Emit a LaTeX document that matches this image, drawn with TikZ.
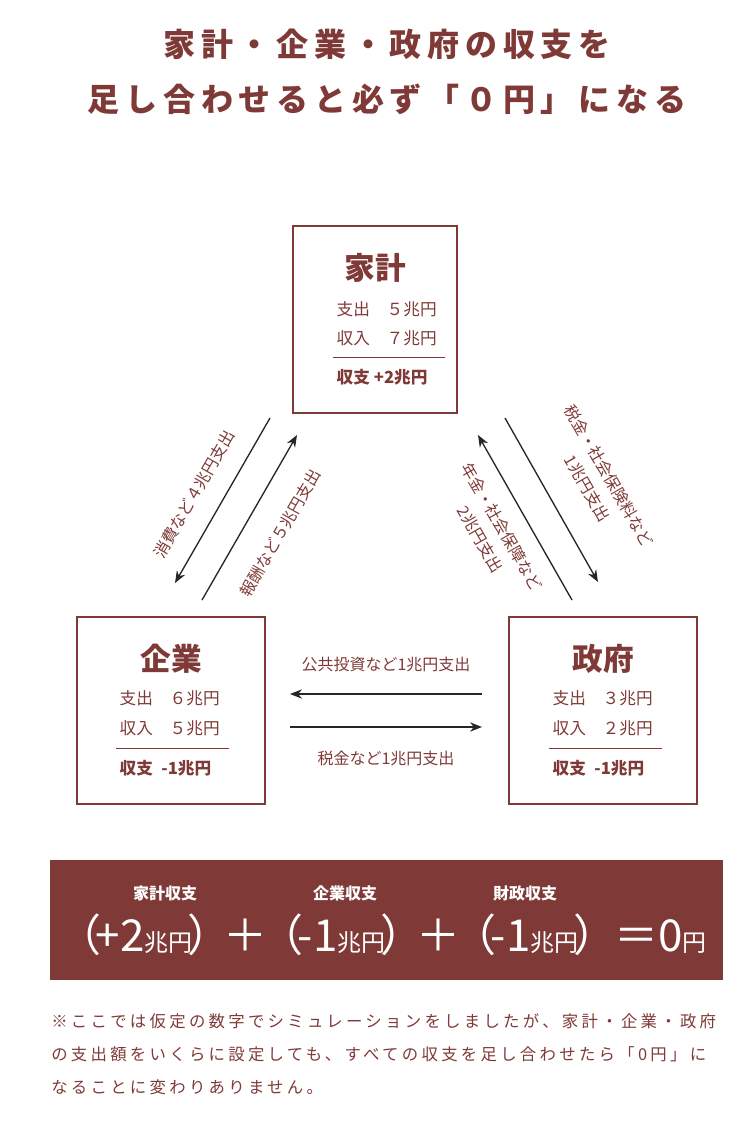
\documentclass[tikz,border=0pt]{standalone}
\usepackage{fontspec}
\setmainfont{Noto Sans CJK JP}
\newfontfamily\spacedfont[LetterSpace=18]{Noto Sans CJK JP}
\newfontfamily\notefont[LetterSpace=20]{Noto Sans CJK JP}
\usetikzlibrary{arrows.meta}
\definecolor{brn}{RGB}{127,58,55}
\begin{document}
\begin{tikzpicture}[x=0.75pt,y=0.75pt,yscale=-1,xscale=1]
\tikzset{
  box/.style={draw=brn,line width=1.2pt},
  lbl/.style={text=brn,font=\fontsize{12}{19}\selectfont,align=center},
  row/.style={text=brn,font=\fontsize{12.5}{14}\selectfont,anchor=west},
  ttl/.style={text=brn,font=\fontsize{23}{26}\selectfont\bfseries},
  arr/.style={-{Stealth[length=9pt,width=7pt]},line width=1pt,black!85}
}
\useasboundingbox (0,0) rectangle (750,1122);

% Title
\node[text=brn,font=\spacedfont\fontsize{24}{41}\selectfont\bfseries,align=center] (title) at (387,72) {家計・企業・政府の収支を\\足し合わせると必ず「０円」になる};

%Shape: household box
\draw[box] (293,226) rectangle (457,413);
\node[ttl] (hh) at (375,268) {家計};
\node[row] (hh1) at (332,309) {支出\quad５兆円};
\node[row] (hh2) at (332,338) {収入\quad７兆円};
\draw[brn,line width=0.5pt] (333,357) -- (445,357);
\node[row,font=\fontsize{12.5}{14}\selectfont\bfseries] (hh3) at (332,377) {収支 +2兆円};

%Shape: firm box
\draw[box] (77,617) rectangle (265,804);
\node[ttl] (fi) at (171,659) {企業};
\node[row] (fi1) at (115,698) {支出\quad６兆円};
\node[row] (fi2) at (115,728) {収入\quad５兆円};
\draw[brn,line width=0.5pt] (116,748) -- (229,748);
\node[row,font=\fontsize{12.5}{14}\selectfont\bfseries] (fi3) at (115,768) {収支\enspace-1兆円};

%Shape: government box
\draw[box] (509,617) rectangle (697,804);
\node[ttl] (go) at (603,659) {政府};
\node[row] (go1) at (548,698) {支出\quad３兆円};
\node[row] (go2) at (548,728) {収入\quad２兆円};
\draw[brn,line width=0.5pt] (549,748) -- (662,748);
\node[row,font=\fontsize{12.5}{14}\selectfont\bfseries] (go3) at (548,768) {収支\enspace-1兆円};

% arrow end points
\coordinate (a1) at (270,418); \coordinate (a2) at (175,583);
\coordinate (b1) at (202,600); \coordinate (b2) at (297,435);
\coordinate (c1) at (505,418); \coordinate (c2) at (598,582);
\coordinate (d1) at (572,600); \coordinate (d2) at (478,435);
\coordinate (e1) at (482,694); \coordinate (e2) at (290,694);
\coordinate (f1) at (290,727); \coordinate (f2) at (482,727);
\draw[arr] (a1) -- (a2);
\draw[arr] (b1) -- (b2);
\draw[arr] (c1) -- (c2);
\draw[arr] (d1) -- (d2);
\draw[arr] (e1) -- (e2);
\draw[arr] (f1) -- (f2);

% Text Node
\node[lbl,rotate=60] (la) at (194,494) {消費など４兆円支出};
\node[lbl,rotate=60] (lb) at (280,533) {報酬など５兆円支出};
\node[lbl,rotate=-60] (lc) at (598,482) {税金・社会保険料など\\1兆円支出};
\node[lbl,rotate=-60] (ld) at (491,533) {年金・社会保障など\\2兆円支出};
\node[lbl] (le) at (386,664) {公共投資など1兆円支出};
\node[lbl] (lf) at (386,758) {税金など1兆円支出};

%Shape: banner
\fill[brn] (50,860) rectangle (723,980);
\node[text=white,font=\fontsize{12}{13}\selectfont\bfseries] (s1) at (165,893) {家計収支};
\node[text=white,font=\fontsize{12}{13}\selectfont\bfseries] (s2) at (345,893) {企業収支};
\node[text=white,font=\fontsize{12}{13}\selectfont\bfseries] (s3) at (525,893) {財政収支};
\node[text=white,font=\fontsize{33}{36}\selectfont,inner sep=0pt] (eq) at (382,935)
  {（\kern-4pt+2{\fontsize{18}{20}\selectfont 兆円}\kern-4pt）\kern-6pt＋\kern-6pt（\kern-4pt-1{\fontsize{18}{20}\selectfont 兆円}\kern-4pt）\kern-6pt＋\kern-6pt（\kern-4pt-1{\fontsize{18}{20}\selectfont 兆円}\kern-4pt）\kern-2pt＝0{\fontsize{18}{20}\selectfont 円}};

% Footnote
\node[text=brn,font=\notefont\fontsize{12.3}{25}\selectfont,align=left,anchor=north west,inner sep=0pt] (note) at (51,1013)
  {※ここでは仮定の数字でシミュレーションをしましたが、家計・企業・政府\\の支出額をいくらに設定しても、すべての収支を足し合わせたら「0円」に\\なることに変わりありません。};
\end{tikzpicture}
\end{document}
